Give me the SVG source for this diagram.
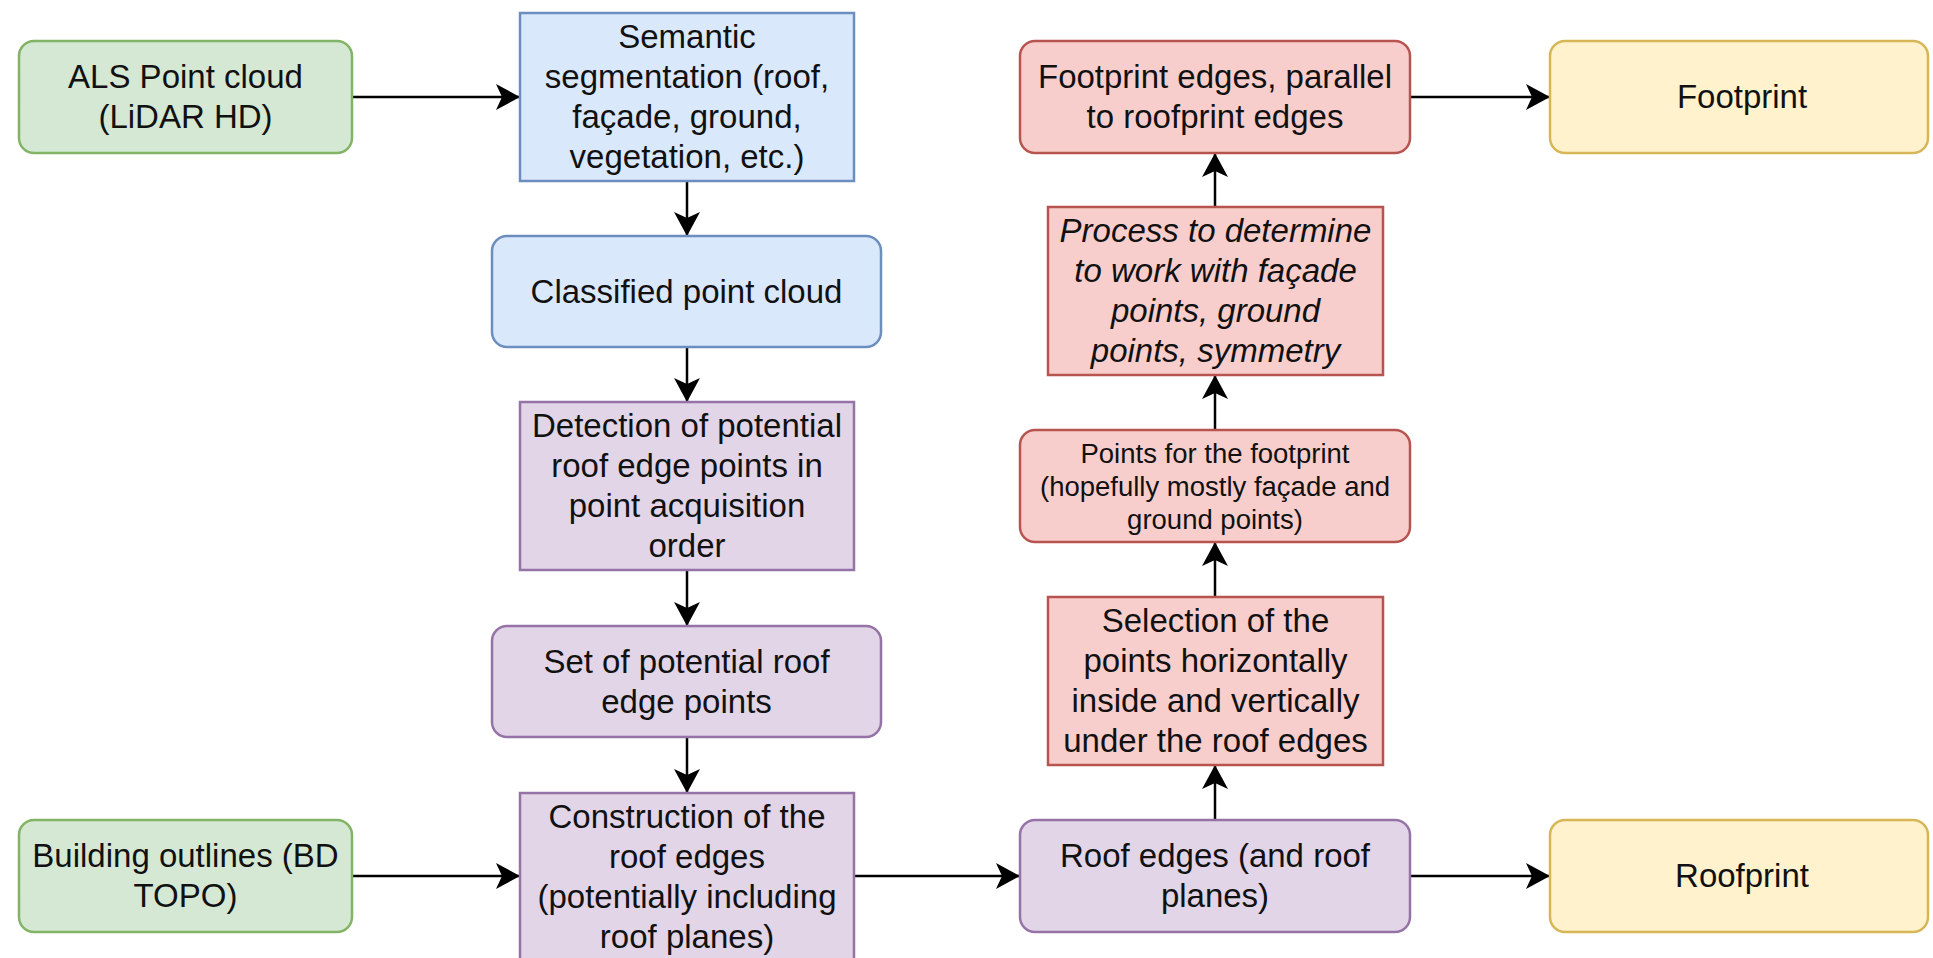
<svg xmlns="http://www.w3.org/2000/svg" width="1933" height="958" viewBox="0 0 1933 958">
<defs>
<marker id="arr" markerUnits="userSpaceOnUse" markerWidth="26" markerHeight="26" viewBox="0 0 24 26" refX="24" refY="13" orient="auto">
<path d="M0,0 L24,13 L0,26 L6,13 Z" fill="#000"/>
</marker>
</defs>
<style>
rect{stroke-width:2.5}
.g{fill:#d5e8d4;stroke:#82b366}
.b{fill:#dae8fc;stroke:#6c8ebf}
.p{fill:#e1d5e7;stroke:#9673a6}
.r{fill:#f8cecc;stroke:#b85450}
.y{fill:#fff2cc;stroke:#d6b656}
text{font-family:"Liberation Sans",Arial,sans-serif;font-size:33px;fill:#111;text-anchor:middle}
.s{font-size:27.5px}
.i{font-style:italic}
#edges line{stroke:#000;stroke-width:2.5;marker-end:url(#arr)}
</style>
<rect width="1933" height="958" fill="#fff" stroke="none"/>
<g id="edges">
<line x1="352" y1="97" x2="520" y2="97"/>
<line x1="687" y1="181" x2="687" y2="236"/>
<line x1="687" y1="347" x2="687" y2="402"/>
<line x1="687" y1="570" x2="687" y2="626"/>
<line x1="687" y1="737" x2="687" y2="793"/>
<line x1="352" y1="876" x2="520" y2="876"/>
<line x1="854" y1="876" x2="1020" y2="876"/>
<line x1="1410" y1="876" x2="1550" y2="876"/>
<line x1="1215" y1="820" x2="1215" y2="765"/>
<line x1="1215" y1="597" x2="1215" y2="542"/>
<line x1="1215" y1="430" x2="1215" y2="375"/>
<line x1="1215" y1="207" x2="1215" y2="153"/>
<line x1="1410" y1="97" x2="1550" y2="97"/>
</g>
<g id="als"><rect class="g" x="19" y="41" width="333" height="112" rx="15"/>
<text x="185.5" y="88">ALS Point cloud</text><text x="185.5" y="128">(LiDAR HD)</text></g>
<g id="semantic"><rect class="b" x="520" y="13" width="334" height="168"/>
<text x="687" y="48">Semantic</text><text x="687" y="88">segmentation (roof,</text><text x="687" y="128">façade, ground,</text><text x="687" y="168">vegetation, etc.)</text></g>
<g id="classified"><rect class="b" x="492" y="236" width="389" height="111" rx="15"/>
<text x="686.5" y="302.5">Classified point cloud</text></g>
<g id="detection"><rect class="p" x="520" y="402" width="334" height="168"/>
<text x="687" y="437">Detection of potential</text><text x="687" y="477">roof edge points in</text><text x="687" y="517">point acquisition</text><text x="687" y="557">order</text></g>
<g id="set"><rect class="p" x="492" y="626" width="389" height="111" rx="15"/>
<text x="686.5" y="672.5">Set of potential roof</text><text x="686.5" y="712.5">edge points</text></g>
<g id="construction"><rect class="p" x="520" y="793" width="334" height="168"/>
<text x="687" y="828">Construction of the</text><text x="687" y="868">roof edges</text><text x="687" y="908">(potentially including</text><text x="687" y="948">roof planes)</text></g>
<g id="building"><rect class="g" x="19" y="820" width="333" height="112" rx="15"/>
<text x="185.5" y="867">Building outlines (BD</text><text x="185.5" y="907">TOPO)</text></g>
<g id="roofedges"><rect class="p" x="1020" y="820" width="390" height="112" rx="15"/>
<text x="1215" y="867">Roof edges (and roof</text><text x="1215" y="907">planes)</text></g>
<g id="roofprint"><rect class="y" x="1550" y="820" width="378" height="112" rx="15"/>
<text x="1742" y="887">Roofprint</text></g>
<g id="selection"><rect class="r" x="1048" y="597" width="335" height="168"/>
<text x="1215.5" y="632">Selection of the</text><text x="1215.5" y="672">points horizontally</text><text x="1215.5" y="712">inside and vertically</text><text x="1215.5" y="752">under the roof edges</text></g>
<g id="points"><rect class="r" x="1020" y="430" width="390" height="112" rx="15"/>
<text class="s" x="1215" y="462.5">Points for the footprint</text><text class="s" x="1215" y="495.5">(hopefully mostly façade and</text><text class="s" x="1215" y="528.5">ground points)</text></g>
<g id="process"><rect class="r" x="1048" y="207" width="335" height="168"/>
<text class="i" x="1215.5" y="242">Process to determine</text><text class="i" x="1215.5" y="282">to work with façade</text><text class="i" x="1215.5" y="322">points, ground</text><text class="i" x="1215.5" y="362">points, symmetry</text></g>
<g id="footedges"><rect class="r" x="1020" y="41" width="390" height="112" rx="15"/>
<text x="1215" y="88">Footprint edges, parallel</text><text x="1215" y="128">to roofprint edges</text></g>
<g id="footprint"><rect class="y" x="1550" y="41" width="378" height="112" rx="15"/>
<text x="1742" y="108">Footprint</text></g>
</svg>
